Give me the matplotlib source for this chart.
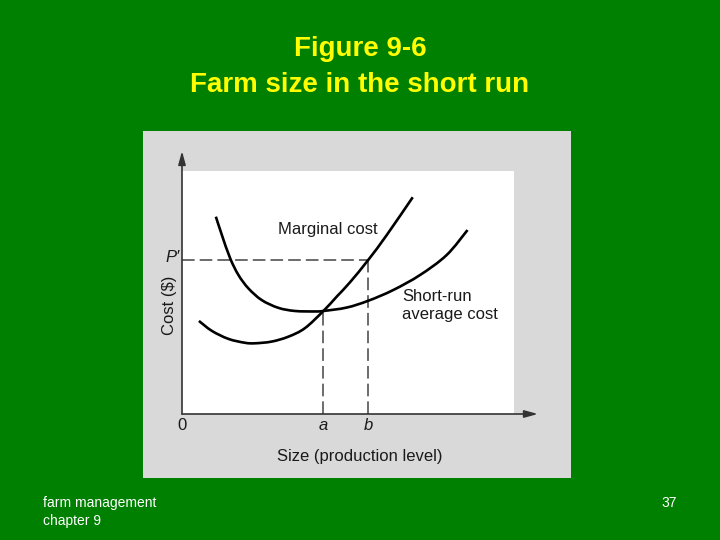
import matplotlib
matplotlib.use("Agg")
import matplotlib.pyplot as plt
from matplotlib.patches import Rectangle, PathPatch
from matplotlib.path import Path

plt.rcParams['font.family'] = ['Liberation Sans', 'DejaVu Sans']

# ---- data (axes in relative units 0..100) ----
mc_x = [5.1, 9.0, 14.0, 19.0, 22.0, 27.0, 32.0, 37.0, 42.6, 46.6, 50.6, 56.1, 61.7, 69.5]
mc_y = [38.3, 34.2, 30.9, 29.3, 29.1, 29.8, 31.8, 35.3, 42.4, 48.3, 54.2, 63.4, 73.7, 89.2]

ac_x = [10.2, 12.0, 14.5, 17.0, 20.0, 24.0, 29.0, 34.0, 40.0, 42.6, 49.6, 56.1, 63.6, 71.7, 79.7, 86.0]
ac_y = [81.2, 73.7, 64.1, 57.2, 51.7, 46.9, 43.7, 42.4, 42.2, 42.4, 43.8, 46.6, 51.0, 57.2, 65.4, 75.7]

p_prime = 63.4
a_val = 42.6
a_cost = 42.4
b_val = 56.1

x_ticklabels = ["0", "a", "b"]
title_lines = ["Figure 9-6", "Farm size in the short run"]
ac_label_lines = ["Short-run", "average cost"]


def smooth_path(xs, ys):
    """Catmull-Rom through the read points, rendered as cubic Bezier segments."""
    pts = list(zip(xs, ys))
    verts = [pts[0]]
    codes = [Path.MOVETO]
    n = len(pts)
    for i in range(n - 1):
        p0 = pts[i - 1] if i > 0 else pts[i]
        p1 = pts[i]
        p2 = pts[i + 1]
        p3 = pts[i + 2] if i + 2 < n else pts[i + 1]
        c1 = (p1[0] + (p2[0] - p0[0]) / 6, p1[1] + (p2[1] - p0[1]) / 6)
        c2 = (p2[0] - (p3[0] - p1[0]) / 6, p2[1] - (p3[1] - p1[1]) / 6)
        verts += [c1, c2, p2]
        codes += [Path.CURVE4] * 3
    return Path(verts, codes)


W, H = 720, 540
fig = plt.figure(figsize=(7.2, 5.4), dpi=100, facecolor="#008000")

# Title
fig.text(360 / W, 1 - 49 / H, title_lines[0], color="#ffff00", fontsize=20,
         fontweight="bold", ha="center", va="center")
fig.text(360 / W, 1 - 85 / H, title_lines[1], color="#ffff00", fontsize=20,
         fontweight="bold", ha="center", va="center")

# Footer
fig.text(43 / W, 1 - 503 / H, "farm management", color="white", fontsize=10,
         ha="left", va="center")
fig.text(43 / W, 1 - 521 / H, "chapter 9", color="white", fontsize=10,
         ha="left", va="center")
fig.text(677 / W, 1 - 503 / H, "37", color="white", fontsize=10,
         ha="right", va="center")

# Grey panel
fig.patches.append(Rectangle((143 / W, 1 - 478 / H), (571 - 143) / W, (478 - 131) / H,
                             transform=fig.transFigure, facecolor="#d9d9d9",
                             edgecolor="none", zorder=-5))

# Plot axes (white area)
ax = fig.add_axes([182 / W, 1 - 414 / H, (514 - 182) / W, (414 - 171) / H])
ax.set_zorder(2)
ax.set_xlim(0, 100)
ax.set_ylim(0, 100)
ax.set_facecolor("white")
for s in ax.spines.values():
    s.set_visible(False)
ax.set_xticks([])
ax.set_yticks([])

# axis arrows
ax.annotate("", xy=(107.2, 0), xytext=(0, 0), annotation_clip=False,
            arrowprops=dict(arrowstyle="-|>,head_length=0.8,head_width=0.22",
                            color="#333333", lw=1.2, shrinkA=0, shrinkB=0))
ax.annotate("", xy=(0, 108.2), xytext=(0, 0), annotation_clip=False,
            arrowprops=dict(arrowstyle="-|>,head_length=0.8,head_width=0.22",
                            color="#333333", lw=1.2, shrinkA=0, shrinkB=0))

# dashed guides
dash = dict(color="#606060", lw=1.3, linestyle=(0, (7, 2.8)))
ax.plot([0, b_val], [p_prime, p_prime], **dash, zorder=2)
ax.plot([a_val, a_val], [0, a_cost], **dash, zorder=2)
ax.plot([b_val, b_val], [0, p_prime], **dash, zorder=2)

# curves
for xs, ys in [(mc_x, mc_y), (ac_x, ac_y)]:
    ax.add_patch(PathPatch(smooth_path(xs, ys), facecolor="none",
                           edgecolor="black", lw=1.9, zorder=3,
                           capstyle="butt"))

# labels
tc = "#1a1a1a"
fs = 12
ax.text(43.8, 75.8, "Marginal cost", fontsize=fs, color=tc, ha="center", va="center")
ax.text(66.2, 48.5, ac_label_lines[0], fontsize=fs, color=tc, ha="left", va="center")
ax.text(66.2, 40.8, ac_label_lines[1], fontsize=fs, color=tc, ha="left", va="center")
ax.text(-0.7, 64.4, "P\u2032", fontsize=fs, color=tc, style="italic",
        ha="right", va="center")
ax.text(-3.8, 44.9, "Cost ($)", fontsize=fs, color=tc, rotation=90,
        ha="center", va="center")
for xv, lab in zip([0, a_val, b_val], x_ticklabels):
    ax.text(xv, -4.9, lab, fontsize=fs, color=tc, ha="center", va="center",
            style=("normal" if lab == "0" else "italic"))
ax.text(53.5, -17.3, "Size (production level)", fontsize=fs, color=tc,
        ha="center", va="center")

fig.savefig("out.png", dpi=100, facecolor=fig.get_facecolor())
